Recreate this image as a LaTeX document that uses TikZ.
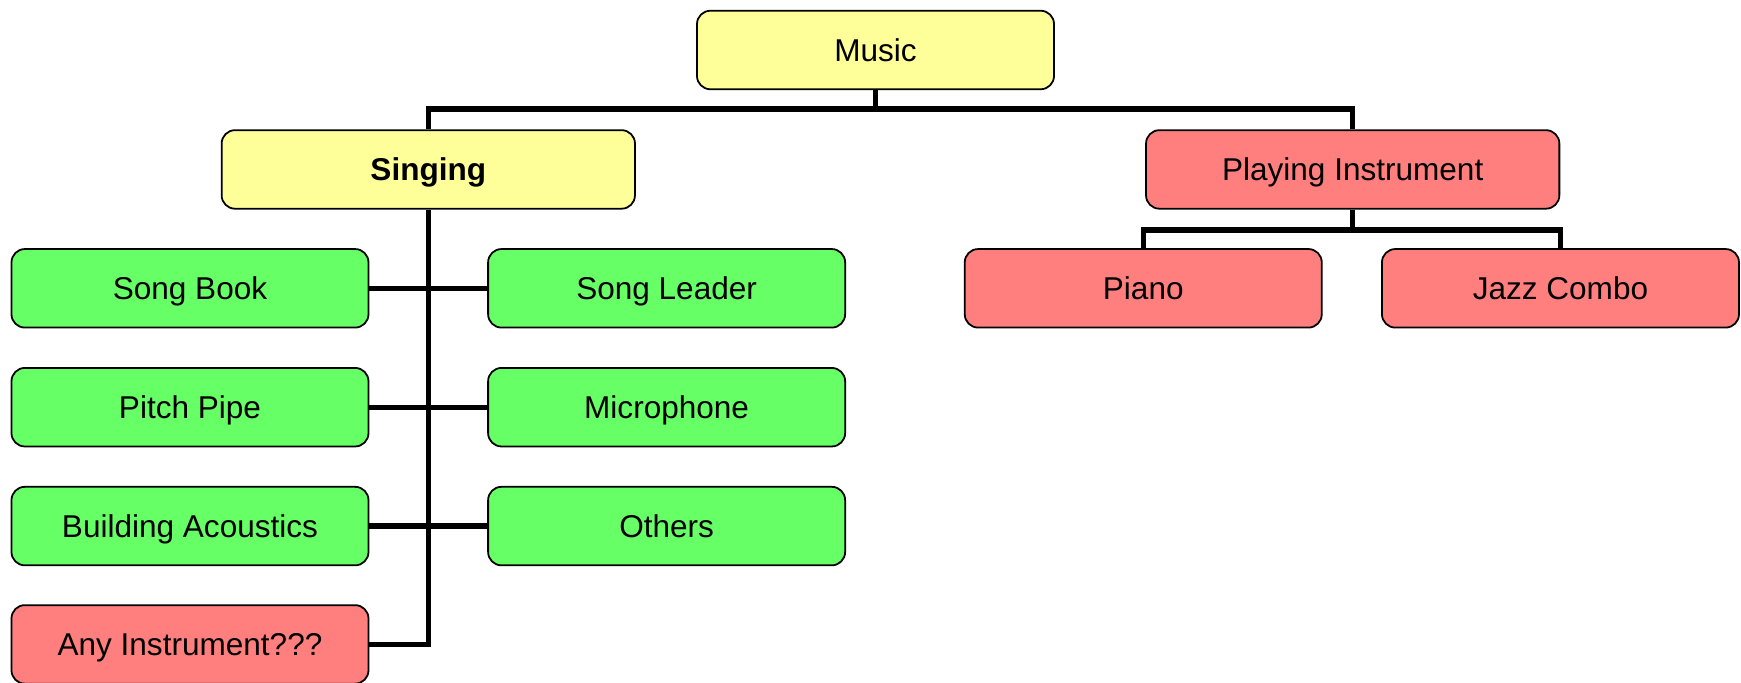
\documentclass[tikz,border=0pt]{standalone}
\usepackage{fontspec}
\setmainfont{Liberation Sans}
\usetikzlibrary{backgrounds}
\definecolor{byellow}{HTML}{FFFF99}
\definecolor{bgreen}{HTML}{66FF66}
\definecolor{bred}{HTML}{FF7F7F}
\tikzset{
  box/.style={draw=black, line width=1.2pt, rounded corners=9pt, minimum width=241pt, minimum height=53pt, inner sep=0pt, text height=15.25pt, text depth=0pt, font=\fontsize{21.3}{25}\selectfont},
  wide/.style={box, minimum width=279pt},
  yel/.style={fill=byellow},
  grn/.style={fill=bgreen},
  red/.style={fill=bred},
  conn/.style={draw=black, line width=3.6pt}
}
\begin{document}
\begin{tikzpicture}[x=0.75pt,y=-0.75pt]
\useasboundingbox (0,0) rectangle (1567,614);
\node[box, yel] (music) at (788,45) {Music};
\node[wide, yel, font=\fontsize{21.3}{25}\selectfont\bfseries] (singing) at (385.5,152.5) {Singing};
\node[wide, red] (playing) at (1217.5,152.5) {Playing Instrument};
\node[box, red] (piano) at (1029,259.5) {Piano};
\node[box, red] (jazz) at (1404.5,259.5) {Jazz Combo};
\node[box, grn] (songbook) at (171,259.5) {Song Book};
\node[box, grn] (songleader) at (600,259.5) {Song Leader};
\node[box, grn] (pitch) at (171,366.5) {Pitch Pipe};
\node[box, grn] (micro) at (600,366.5) {Microphone};
\node[box, grn] (acoustics) at (171,473.5) {Building Acoustics};
\node[box, grn] (others) at (600,473.5) {Others};
\node[box, red] (anyinst) at (171,580) {Any Instrument???};
\coordinate (mbus) at (788,98);
\coordinate (pbus) at (1217.5,207);
\begin{scope}[on background layer]
\draw[conn] (music.south) -- (mbus) -| (singing.north);
\draw[conn] (mbus) -| (playing.north);
\draw[conn] (singing.south) |- (anyinst.east);
\draw[conn] (songbook.east) -- (songleader.west);
\draw[conn] (pitch.east) -- (micro.west);
\draw[conn] (acoustics.east) -- (others.west);
\draw[conn] (playing.south) -- (pbus) -| (piano.north);
\draw[conn] (pbus) -| (jazz.north);
\end{scope}
\end{tikzpicture}
\end{document}
